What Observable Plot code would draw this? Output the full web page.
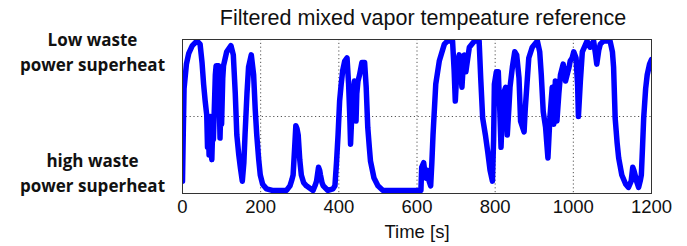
<!DOCTYPE html>
<html>
<head>
<meta charset="utf-8">
<script src="https://cdn.jsdelivr.net/npm/d3@7"></script>
<script src="https://cdn.jsdelivr.net/npm/@observablehq/plot@0.6"></script>
<style>
  html, body { margin: 0; padding: 0; background: #fff; }
</style>
</head>
<body>
<div id="chart"></div>
<script>
const title = "Filtered mixed vapor tempeature reference";
const xLabel = "Time [s]";
const xTicks = [0, 200, 400, 600, 800, 1000, 1200];
const yLabelTop = ["Low waste", "power superheat"];
const yLabelBottom = ["high waste", "power superheat"];

const time = [0,2,4,10,16,25,37,45,50,54,58,62,64,66,68,71,73,75,77,79,82,84,86,92,94,96,98,100,103,105,113,124,130,135,139,144,148,153,157,160,165,169,176,182,186,190,195,199,205,215,230,266,275,280,283,287,290,293,296,300,304,310,317,334,339,343,348,351,353,357,360,372,385,390,394,398,402,406,410,415,421,425,428,430,433,436,440,442,444,446,449,453,459,466,470,474,478,481,490,500,513,610,612,617,620,623,627,631,635,638,641,648,657,670,678,691,695,698,701,704,708,712,715,718,721,725,730,734,747,759,763,768,775,781,787,793,796,798,803,808,812,815,818,820,827,831,835,838,844,850,855,861,865,874,877,880,886,895,908,914,918,923,929,932,935,940,946,950,954,958,963,967,974,980,985,989,992,997,1001,1007,1011,1013,1018,1023,1035,1043,1052,1057,1060,1065,1069,1077,1094,1100,1103,1107,1112,1116,1124,1134,1141,1148,1152,1155,1158,1163,1167,1171,1174,1177,1180,1185,1189,1195,1200];
const value = [0.08,0.40,0.68,0.84,0.91,0.96,0.99,0.97,0.85,0.71,0.60,0.51,0.30,0.45,0.25,0.50,0.28,0.22,0.40,0.35,0.60,0.77,0.83,0.83,0.60,0.36,0.55,0.45,0.75,0.83,0.92,0.96,0.90,0.65,0.38,0.25,0.17,0.08,0.20,0.38,0.65,0.82,0.90,0.77,0.55,0.38,0.22,0.12,0.06,0.03,0.02,0.02,0.05,0.09,0.12,0.30,0.44,0.42,0.38,0.22,0.12,0.07,0.05,0.02,0.05,0.08,0.17,0.15,0.12,0.07,0.05,0.02,0.03,0.05,0.20,0.38,0.60,0.71,0.80,0.86,0.88,0.71,0.50,0.32,0.50,0.64,0.73,0.55,0.47,0.65,0.73,0.77,0.85,0.85,0.69,0.43,0.30,0.21,0.10,0.05,0.02,0.02,0.17,0.20,0.14,0.10,0.15,0.08,0.05,0.20,0.38,0.71,0.86,0.97,0.99,0.99,0.80,0.60,0.75,0.86,0.90,0.78,0.69,0.82,0.90,0.79,0.88,0.95,0.99,0.99,0.75,0.49,0.38,0.27,0.15,0.08,0.35,0.71,0.79,0.79,0.53,0.30,0.50,0.64,0.69,0.38,0.55,0.69,0.82,0.92,0.90,0.75,0.47,0.40,0.55,0.66,0.88,0.95,0.99,0.92,0.77,0.53,0.43,0.33,0.23,0.49,0.69,0.45,0.73,0.47,0.65,0.77,0.84,0.73,0.78,0.82,0.86,0.88,0.92,0.88,0.70,0.50,0.73,0.92,0.99,0.95,0.99,0.90,0.84,0.93,0.97,0.99,0.99,0.92,0.82,0.49,0.33,0.23,0.12,0.06,0.04,0.08,0.17,0.15,0.12,0.07,0.04,0.08,0.12,0.30,0.49,0.68,0.77,0.84,0.87];

const data = time.map((t, i) => ({t, v: value[i]}));
const gridX = xTicks.slice(1, -1);
const labelStyle = {frameAnchor: "left", dx: -90, textAnchor: "middle", lineAnchor: "middle", lineHeight: 1.47, fontSize: 17, fontWeight: "bold", fontFamily: "'Open Sans', sans-serif", fill: "#111"};

const chart = Plot.plot({
  width: 687,
  height: 246,
  marginLeft: 182,
  marginRight: 36,
  marginTop: 39,
  marginBottom: 53,
  style: {fontFamily: "'Liberation Sans', Arial, sans-serif", fontSize: "18px", color: "#111", background: "#fff"},
  x: {domain: [0, 1200], ticks: xTicks},
  y: {domain: [0, 1]},
  marks: [
    Plot.ruleX(gridX, {stroke: "#555", strokeDasharray: "1.2,2.6", strokeWidth: 1}),
    Plot.ruleY([0.5], {stroke: "#555", strokeDasharray: "1.2,2.6", strokeWidth: 1}),
    Plot.line(data, {x: "t", y: "v", stroke: "#0000ff", strokeWidth: 5.5, strokeLinejoin: "round", clip: true}),
    Plot.frame({stroke: "#333", strokeWidth: 1}),
    Plot.axisX({ticks: xTicks, tickSize: 0, tickPadding: 6, tickFormat: d => String(d), label: xLabel, labelAnchor: "center", labelArrow: "none", labelOffset: 44, fontSize: 18.5}),
    Plot.axisY({ticks: [], label: null}),
    Plot.text([yLabelTop.join("\n")], {...labelStyle, y: [1], dy: 11}),
    Plot.text([yLabelBottom.join("\n")], {...labelStyle, y: [0], dy: -22}),
    Plot.text([title], {frameAnchor: "top", dx: 6, dy: -30, fontSize: 21.5, fill: "#111"})
  ]
});
document.getElementById("chart").appendChild(chart);
</script>
</body>
</html>
